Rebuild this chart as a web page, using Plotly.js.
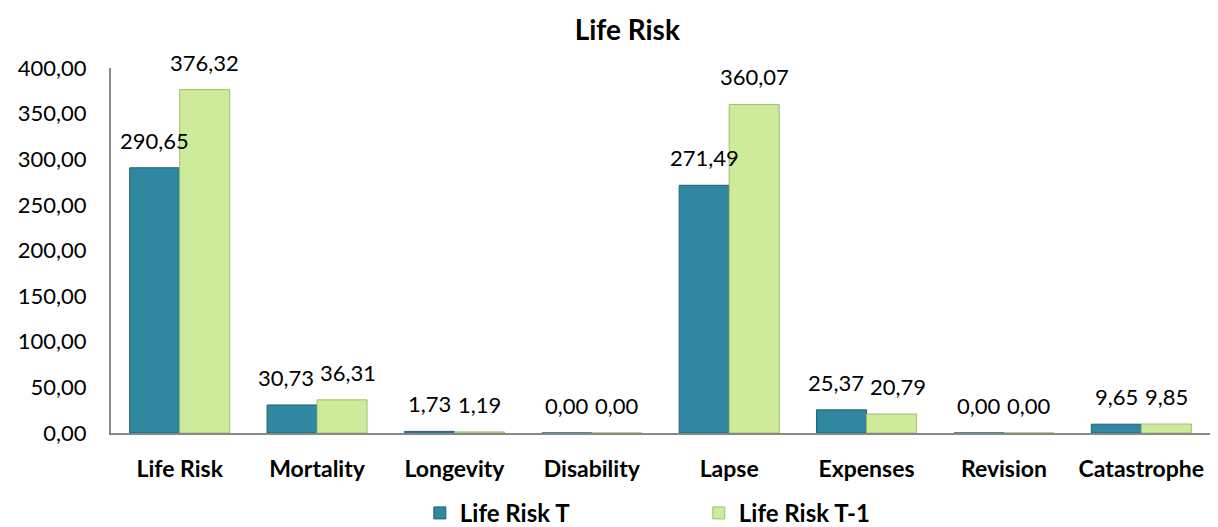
<!DOCTYPE html>
<html><head><meta charset="utf-8">
<script src="https://cdn.plot.ly/plotly-3.0.1.min.js"></script>
<style>body{margin:0;background:#fff}#c{width:1218px;height:527px}</style>
</head><body><div id="c"></div>
<script>
const categories = ["Life Risk","Mortality","Longevity","Disability","Lapse","Expenses","Revision","Catastrophe"];
const lifeRiskT = [290.65,30.73,1.73,0.00,271.49,25.37,0.00,9.65];
const lifeRiskT1 = [376.32,36.31,1.19,0.00,360.07,20.79,0.00,9.85];
const seriesNames = ["Life Risk T","Life Risk T-1"];
const yTicks = [0,50,100,150,200,250,300,350,400];

const font = "Lato, Open Sans, sans-serif";
const fmt = v => v.toFixed(2).replace(".", ",");
const traces = [
  {type:"bar", name:seriesNames[0], x:categories, y:lifeRiskT,
   marker:{color:"#2f87a0", line:{color:"#1f5f73", width:1}}},
  {type:"bar", name:seriesNames[1], x:categories, y:lifeRiskT1,
   marker:{color:"#cdeb9a", line:{color:"#9fbf6e", width:1}}}
];
// data labels, nudged apart when neighbouring labels of a pair would collide
const pxPerUnit = 365 / 400;
const annotations = [];
categories.forEach((c, i) => {
  const a = fmt(lifeRiskT[i]), b = fmt(lifeRiskT1[i]);
  const w = Math.max(a.length, b.length) * 11.6;
  const close = Math.abs(lifeRiskT[i] - lifeRiskT1[i]) * pxPerUnit < 28;
  const extra = close ? Math.max(0, (w - 50) / 2 + 2) : 0;
  [[a, lifeRiskT[i], -1], [b, lifeRiskT1[i], 1]].forEach(([t, v, d]) => {
    annotations.push({x:c, y:v, xref:"x", yref:"y", text:t, showarrow:false,
      xshift: d * (25 + extra), yanchor:"bottom", yshift:12,
      font:{size:22, family:font, color:"#000"}});
  });
});
const layout = {
  width:1218, height:527,
  margin:{l:111, r:8, t:68, b:94},
  separators:",.",
  paper_bgcolor:"#fff", plot_bgcolor:"#fff",
  title:{text:"<b>Life Risk</b>", xref:"container", yref:"container", x:0.515, xanchor:"center", y:0.943, yanchor:"middle", font:{size:28, family:font, color:"#000"}},
  bargap:0.272, bargroupgap:0,
  annotations: annotations,
  xaxis:{automargin:false, showline:true, linecolor:"#888", linewidth:2, ticks:"", ticklabelstandoff:14, tickfont:{size:23, family:font, color:"#000", weight:"bold"}, fixedrange:true},
  yaxis:{automargin:false, range:[0,400], tickvals:yTicks, tickformat:".2f", showgrid:false, zeroline:false, showline:true, linecolor:"#888", linewidth:2, ticks:"", ticklabelstandoff:18, tickfont:{size:22, family:font, color:"#000"}},
  showlegend:true,
  legend:{orientation:"h", xref:"paper", x:0.281, xanchor:"left", yref:"container", y:0.026, yanchor:"middle", font:{size:24, family:font, color:"#000", weight:"bold"}, itemwidth:30, traceorder:"normal", entrywidth:234}
};
Plotly.newPlot("c", traces, layout, {displayModeBar:false, staticPlot:true});
</script></body></html>
